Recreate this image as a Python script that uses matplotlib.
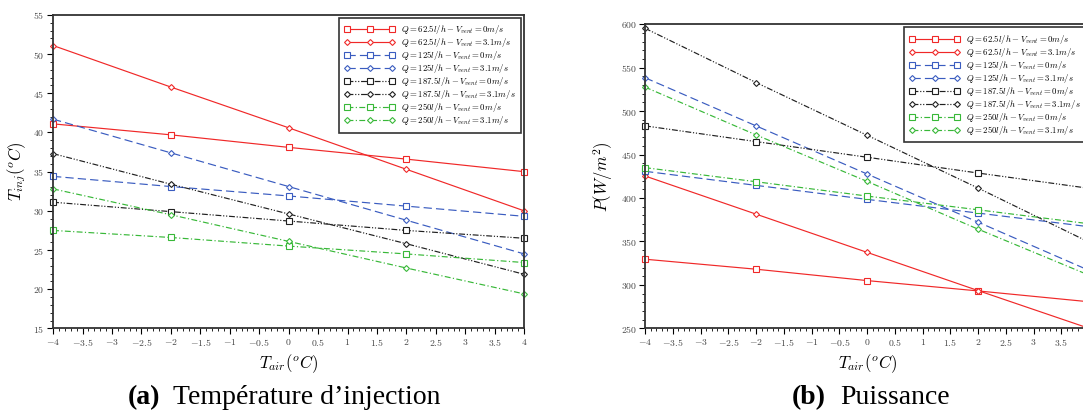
import numpy as np
import matplotlib
matplotlib.use('Agg')
import matplotlib.pyplot as plt
from matplotlib.ticker import MultipleLocator, FuncFormatter

plt.rcParams['mathtext.fontset'] = 'cm'
plt.rcParams['font.family'] = ['Liberation Serif', 'DejaVu Serif']

# --- donnees ---
t_air = [-4, -2, 0, 2, 4]

# (a) temperature d'injection
tinj_625_0 = [41.1, 39.7, 38.1, 36.6, 35.0]
tinj_625_31 = [51.1, 45.8, 40.6, 35.3, 30.0]
tinj_125_0 = [34.4, 33.1, 31.9, 30.6, 29.3]
tinj_125_31 = [41.7, 37.4, 33.1, 28.8, 24.5]
tinj_1875_0 = [31.1, 29.9, 28.7, 27.5, 26.5]
tinj_1875_31 = [37.3, 33.4, 29.6, 25.8, 21.9]
tinj_250_0 = [27.5, 26.6, 25.5, 24.5, 23.4]
tinj_250_31 = [32.8, 29.5, 26.1, 22.7, 19.4]

# (b) puissance
p_625_0 = [329.6, 318.1, 305.0, 293.1, 280.6]
p_625_31 = [425.4, 381.5, 337.5, 293.5, 250.0]
p_125_0 = [430.8, 414.6, 398.5, 382.7, 367.0]
p_125_31 = [538.5, 483.1, 427.7, 372.3, 316.7]
p_1875_0 = [483.1, 465.0, 447.0, 428.8, 411.2]
p_1875_31 = [595.4, 533.0, 472.3, 411.5, 349.2]
p_250_0 = [435.0, 418.8, 402.3, 386.5, 370.4]
p_250_31 = [527.7, 472.7, 419.2, 364.2, 311.2]

labels = [r'$Q=62.5l/h-V_{vent}=0m/s$', r'$Q=62.5l/h-V_{vent}=3.1m/s$',
          r'$Q=125l/h-V_{vent}=0m/s$', r'$Q=125l/h-V_{vent}=3.1m/s$',
          r'$Q=187.5l/h-V_{vent}=0m/s$', r'$Q=187.5l/h-V_{vent}=3.1m/s$',
          r'$Q=250l/h-V_{vent}=0m/s$', r'$Q=250l/h-V_{vent}=3.1m/s$']

red = '#f02828'
blue = '#3a5cc0'
black = '#202020'
green = '#38b838'
styles = [
    (red, (None, None), 's'), (red, (None, None), 'D'),
    (blue, (7, 3.5), 's'), (blue, (7, 3.5), 'D'),
    (black, (5, 1.5, 1, 1.5, 1, 1.5), 's'), (black, (5, 1.5, 1, 1.5, 1, 1.5), 'D'),
    (green, (5, 2, 1, 2), 's'), (green, (5, 2, 1, 2), 'D'),
]

fig = plt.figure(figsize=(10.83, 4.12), dpi=100)
ax1 = fig.add_axes([0.049, 0.203, 0.435, 0.7607])
ax2 = fig.add_axes([0.5956, 0.203, 0.41, 0.738])


def tick_fmt(v, pos):
    return '$%g$' % v


def tick_fmt_b(v, pos):
    # le 4 est coupe par le bord de l'image
    if v > 3.9:
        return ''
    return '$%g$' % v


def draw(ax, series, ylim, ymaj, ymin):
    for vals, lab, (c, d, m) in zip(series, labels, styles):
        ms = 3.8 if m == 's' else 3.0
        line, = ax.plot(t_air, vals, color=c, lw=0.85, marker=m, ms=ms,
                        mfc='white', mec=c, mew=0.8, label=lab, clip_on=False)
        if d[0] is not None:
            line.set_dashes(d)
    ax.set_xlim(-4, 4)
    ax.set_ylim(*ylim)
    ax.xaxis.set_major_locator(MultipleLocator(0.5))
    ax.xaxis.set_minor_locator(MultipleLocator(0.1))
    ax.yaxis.set_major_locator(MultipleLocator(ymaj))
    ax.yaxis.set_minor_locator(MultipleLocator(ymin))
    ax.xaxis.set_major_formatter(FuncFormatter(tick_fmt))
    ax.yaxis.set_major_formatter(FuncFormatter(tick_fmt))
    ax.tick_params(which='major', direction='out', length=4, width=0.8,
                   labelsize=7, labelcolor='#444444', pad=2)
    ax.tick_params(which='minor', direction='out', length=2, width=0.6)
    for s in ax.spines.values():
        s.set_linewidth(1.3)
        s.set_color('#333333')
    leg = ax.legend(loc='upper right', fontsize=6.3, numpoints=3, handlelength=5.8,
                    handletextpad=0.7, labelspacing=0.0, borderaxespad=0.35,
                    fancybox=False, framealpha=1, edgecolor='#333333',
                    borderpad=0.6)
    leg.get_frame().set_linewidth(1.2)
    ax.set_xlabel(r'$T_{air}(^oC)$', fontsize=12, labelpad=3)


draw(ax1, [tinj_625_0, tinj_625_31, tinj_125_0, tinj_125_31,
           tinj_1875_0, tinj_1875_31, tinj_250_0, tinj_250_31],
     (15, 55), 5, 1)
ax1.set_ylabel(r'$T_{inj}(^oC)$', fontsize=12, labelpad=4)

draw(ax2, [p_625_0, p_625_31, p_125_0, p_125_31,
           p_1875_0, p_1875_31, p_250_0, p_250_31],
     (250, 600), 50, 10)
ax2.xaxis.set_major_formatter(FuncFormatter(tick_fmt_b))
ax2.set_ylabel(r'$P(W/m^2)$', fontsize=12, labelpad=4)

fig.text(0.118, 0.036, '(a)', fontsize=20, fontweight='bold', ha='left', va='center')
fig.text(0.160, 0.036, 'Température d\u2019injection', fontsize=20, ha='left', va='center')
fig.text(0.731, 0.036, '(b)', fontsize=20, fontweight='bold', ha='left', va='center')
fig.text(0.776, 0.036, 'Puissance', fontsize=20, ha='left', va='center')

fig.savefig('out.png', dpi=100)
